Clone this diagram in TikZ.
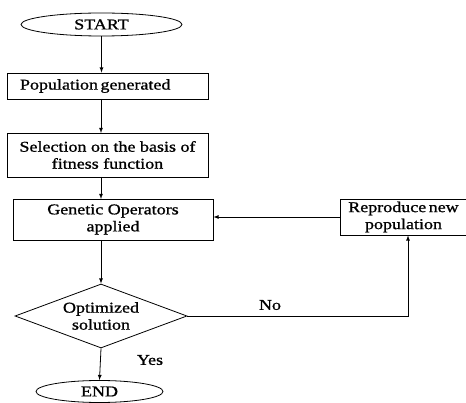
\documentclass[tikz,border=0pt]{standalone}
\usepackage{fontspec}
\setmainfont[FakeStretch=1.2, FakeBold=1]{Liberation Serif}
\usetikzlibrary{shapes,arrows,positioning,calc}

\tikzset{
    flowbox/.style={draw, line width=0.8pt, inner sep=2pt, align=center},
    terminal/.style={draw, ellipse, line width=0.8pt, inner sep=0pt},
    decision/.style={draw, diamond, line width=0.8pt, inner sep=0pt, aspect=2.7, align=center},
    flowline/.style={line width=0.8pt, -latex}
}

\begin{document}
\begin{tikzpicture}[x=1pt, y=-1pt, font=\fontsize{15}{17}\selectfont]
        \useasboundingbox (0,0) rectangle (466,403);
        % terminals
        \node[terminal, minimum width=161pt, minimum height=23pt] (start) at (101.5,24.5) {START};
        \node[terminal, minimum width=127pt, minimum height=22pt] (end) at (99.5,391.5) {END};
        % process boxes
        \node[flowbox, minimum width=201pt, minimum height=26pt, text width=175pt, align=left] (pop) at (107.5,86) {Population\,generated};
        \node[flowbox, minimum width=201pt, minimum height=44pt] (sel) at (107.5,155) {Selection on the basis of\\fitness function};
        \node[flowbox, minimum width=200pt, minimum height=41pt] (gen) at (113,219.5) {Genetic Operators\\applied};
        \node[flowbox, minimum width=127pt, minimum height=36pt, text width=123pt] (repro) at (403.5,217) {Reproduce\,new\\population};
        \node[decision, minimum width=172pt, minimum height=64pt] (opt) at (101,316) {Optimized\\solution};
        \coordinate (turn) at (408,316);
        % connectors
        \draw[flowline] (start.south) -- (start.south |- pop.north);
        \draw[flowline] (101,99) -- (101,133);
        \draw[flowline] (101,177) -- (101,199);
        \draw[flowline] (101,240) -- (opt.north);
        \draw[flowline] (opt.south) -- (end.north);
        \draw[flowline] (opt.east) -- (turn) -- (turn |- repro.south);
        \draw[flowline] (repro.west) -- (repro.west -| gen.east);
        % labels
        \node (no) at (270,305) {No};
        \node (yes) at (150,360) {Yes};
    \end{tikzpicture}
\end{document}
